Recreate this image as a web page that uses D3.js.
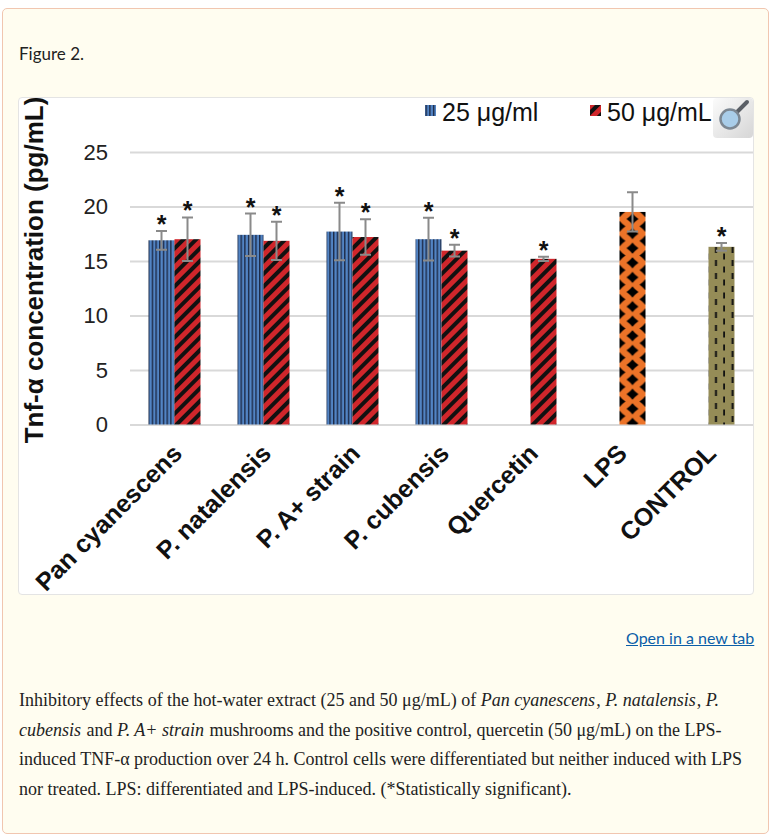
<!DOCTYPE html>
<html>
<head>
<meta charset="utf-8">
<title>Figure 2</title>
<script src="https://d3js.org/d3.v7.min.js"></script>
<style>
  body { margin: 0; width: 771px; height: 839px; position: relative; overflow: hidden; background: #fff; }
  .card { position: absolute; left: 2px; top: 8px; width: 767px; height: 826px; background: #fffdf0;
          border: 1px solid #f1c6b0; border-radius: 5px; box-sizing: border-box; }
  .figlabel { position: absolute; left: 19px; top: 43px; font-family: Lato, sans-serif; font-size: 17px; color: #222; }
  .panel { position: absolute; left: 18px; top: 97px; width: 736px; height: 498px; background: #fff;
           border: 1px solid #e4e4e4; border-radius: 4px; box-sizing: border-box; }
  .link { position: absolute; left: 626px; top: 628px; font-family: Lato, sans-serif; font-size: 16px;
          color: #0b5ea8; text-decoration: underline; }
  .caption { position: absolute; left: 19px; top: 686px; width: 740px; font-family: "Liberation Serif", serif;
             font-size: 18px; line-height: 29.5px; color: #222; }
  .caption i { padding-right: 1px; }
  svg { position: absolute; left: 0; top: 0; }
</style>
</head>
<body>
<div class="card"></div>
<div class="figlabel">Figure 2.</div>
<div class="panel"></div>
<div class="link">Open in a new tab</div>
<div class="caption">Inhibitory effects of the hot-water extract (25 and 50 μg/mL) of <i>Pan cyanescens</i>, <i>P. natalensis</i>, <i>P.</i> <i>cubensis</i> and <i>P. A+ strain</i> mushrooms and the positive control, quercetin (50 μg/mL) on the LPS-induced TNF-α production over 24 h. Control cells were differentiated but neither induced with LPS nor treated. LPS: differentiated and LPS-induced. (*Statistically significant).</div>
<svg id="chart" width="771" height="839"></svg>

<script>
// data
var categories = ["Pan cyanescens", "P. natalensis", "P. A+ strain", "P. cubensis", "Quercetin", "LPS", "CONTROL"];
var dose25 = [16.9, 17.4, 17.7, 17.0, null, null, null];
var err25  = [0.86, 1.95, 2.64, 1.96, null, null, null];
var sig25  = [true, true, true, true, false, false, false];
var dose50 = [17.0, 16.85, 17.2, 15.95, 15.2, 19.5, 16.3];
var err50  = [2.0, 1.75, 1.63, 0.53, 0.2, 1.8, 0.35];
var sig50  = [true, true, true, true, true, false, true];
var yTicks = [0, 5, 10, 15, 20, 25];
var legendLabels = ["25 μg/ml", "50 μg/mL"];

var svg = d3.select("#chart");
var defs = svg.append("defs");

// fill patterns
var p = defs.append("pattern").attr("id", "vstripe").attr("patternUnits", "userSpaceOnUse")
  .attr("width", 3.7).attr("height", 10);
p.append("rect").attr("width", 3.7).attr("height", 10).attr("fill", "#5284c4");
p.append("rect").attr("width", 1.4).attr("height", 10).attr("fill", "#1d2a47");

p = defs.append("pattern").attr("id", "dstripe").attr("patternUnits", "userSpaceOnUse")
  .attr("width", 9).attr("height", 9).attr("patternTransform", "rotate(45)");
p.append("rect").attr("width", 9).attr("height", 9).attr("fill", "#d0262b");
p.append("rect").attr("width", 4).attr("height", 9).attr("fill", "#111");

var x = d3.scaleBand().domain(categories).range([130, 753]);
var y = d3.scaleLinear().domain([0, 25]).range([424.5, 152]);
var bw = 26;

// slightly concave diamond used for the LPS fill
function star(cx, cy, rx, ry) {
  var kx = rx * 0.42, ky = ry * 0.42;
  return "M" + cx + "," + (cy - ry) +
    "Q" + (cx + kx) + "," + (cy - ky) + " " + (cx + rx) + "," + cy +
    "Q" + (cx + kx) + "," + (cy + ky) + " " + cx + "," + (cy + ry) +
    "Q" + (cx - kx) + "," + (cy + ky) + " " + (cx - rx) + "," + cy +
    "Q" + (cx - kx) + "," + (cy - ky) + " " + cx + "," + (cy - ry) + "Z";
}
p = defs.append("pattern").attr("id", "diamond").attr("patternUnits", "userSpaceOnUse")
  .attr("x", x("LPS") + x.bandwidth() / 2).attr("y", 0).attr("width", 26).attr("height", 14.6);
p.append("rect").attr("width", 26).attr("height", 14.6).attr("fill", "#ec7328");
p.append("path").attr("fill", "#000")
  .attr("d", star(13, 0, 6, 5.7) + star(13, 14.6, 6, 5.7) + star(0, 7.3, 6, 5.7) + star(26, 7.3, 6, 5.7));

p = defs.append("pattern").attr("id", "dash").attr("patternUnits", "userSpaceOnUse")
  .attr("x", x("CONTROL") + x.bandwidth() / 2).attr("y", 0).attr("width", 16.5).attr("height", 13);
p.append("rect").attr("width", 16.5).attr("height", 13).attr("fill", "#958c57");
p.append("rect").attr("x", 6.5).attr("y", 0).attr("width", 2).attr("height", 6).attr("fill", "#111");
p.append("rect").attr("x", 14.7).attr("y", 6.5).attr("width", 2).attr("height", 6).attr("fill", "#111");

var fill50 = function(c) {
  if (c === "LPS") return "url(#diamond)";
  if (c === "CONTROL") return "url(#dash)";
  return "url(#dstripe)";
};

// gridlines and tick labels
var yAxis = d3.axisLeft(y).tickValues(yTicks).tickSize(-(753 - 130)).tickPadding(22);
var ga = svg.append("g").attr("transform", "translate(130,0)").call(yAxis);
ga.select(".domain").remove();
ga.selectAll(".tick line").attr("stroke", "#d9d9d9").attr("stroke-width", 2);
ga.selectAll(".tick text").attr("font-family", "Liberation Sans, Arial, sans-serif")
  .attr("font-size", 22).attr("fill", "#222");

// y title
svg.append("text").attr("transform", "translate(43,270) rotate(-90)")
  .attr("text-anchor", "middle").attr("font-family", "Liberation Sans, Arial, sans-serif")
  .attr("font-size", 26).attr("font-weight", "bold").attr("fill", "#111")
  .text("Tnf-α concentration (pg/mL)");

// bars
var rows = categories.map(function(c, i) {
  return { c: c, v25: dose25[i], e25: err25[i], s25: sig25[i], v50: dose50[i], e50: err50[i], s50: sig50[i] };
});
var mid = function(c) { return x(c) + x.bandwidth() / 2; };

var bars = [];
rows.forEach(function(d) {
  if (d.v25 != null) bars.push({ c: d.c, x0: mid(d.c) - bw, v: d.v25, e: d.e25, s: d.s25, fill: "url(#vstripe)" });
  bars.push({ c: d.c, x0: mid(d.c), v: d.v50, e: d.e50, s: d.s50, fill: fill50(d.c) });
});

svg.append("g").selectAll("rect").data(bars).join("rect")
  .attr("x", function(d) { return d.x0; })
  .attr("y", function(d) { return y(d.v); })
  .attr("width", bw)
  .attr("height", function(d) { return y(0) - y(d.v); })
  .attr("fill", function(d) { return d.fill; });

// error bars
var eg = svg.append("g").attr("stroke", "#8a8a8a").attr("stroke-width", 2).attr("fill", "none");
bars.forEach(function(d) {
  var cx = d.x0 + bw / 2;
  eg.append("path").attr("d",
    "M" + cx + "," + y(d.v + d.e) + "V" + y(d.v - d.e) +
    "M" + (cx - 5.5) + "," + y(d.v + d.e) + "H" + (cx + 5.5) +
    "M" + (cx - 5.5) + "," + y(d.v - d.e) + "H" + (cx + 5.5));
});

// significance asterisks
svg.append("g").selectAll("text").data(bars.filter(function(d) { return d.s; })).join("text")
  .attr("x", function(d) { return d.x0 + bw / 2; })
  .attr("y", function(d) { return y(d.v + d.e) + 2; })
  .attr("text-anchor", "middle").attr("font-family", "Liberation Sans, Arial, sans-serif")
  .attr("font-size", 25).attr("font-weight", "bold").attr("fill", "#111")
  .text("*");

// category labels
svg.append("g").selectAll("text").data(categories).join("text")
  .attr("transform", function(c) { return "translate(" + (mid(c) + 9) + ",455) rotate(-45)"; })
  .attr("text-anchor", "end").attr("font-family", "Liberation Sans, Arial, sans-serif")
  .attr("font-size", 25).attr("font-weight", "bold").attr("fill", "#111")
  .text(function(c) { return c; });

// legend
var lg = svg.append("g").attr("font-family", "Liberation Sans, Arial, sans-serif").attr("font-size", 25).attr("fill", "#111");
[[425, "url(#vstripe)"], [590, "url(#dstripe)"]].forEach(function(l, i) {
  lg.append("rect").attr("x", l[0]).attr("y", 105).attr("width", 11).attr("height", 11).attr("fill", l[1]);
  lg.append("text").attr("x", l[0] + 17).attr("y", 121).text(legendLabels[i]);
});

// magnifier icon
var grad = defs.append("linearGradient").attr("id", "iconbg").attr("x1", 0).attr("y1", 0).attr("x2", 1).attr("y2", 1);
grad.append("stop").attr("offset", "0").attr("stop-color", "#fbfbfb");
grad.append("stop").attr("offset", "1").attr("stop-color", "#d6d6d6");
var ic = svg.append("g");
ic.append("rect").attr("x", 713).attr("y", 98).attr("width", 40).attr("height", 40).attr("rx", 4).attr("fill", "url(#iconbg)");
ic.append("line").attr("x1", 737).attr("y1", 112).attr("x2", 747).attr("y2", 102)
  .attr("stroke", "#5a5f66").attr("stroke-width", 4).attr("stroke-linecap", "round");
ic.append("circle").attr("cx", 730).attr("cy", 119).attr("r", 9.5)
  .attr("fill", "#a9cde9").attr("stroke", "#7c8792").attr("stroke-width", 2.5);
</script>
</body>
</html>
